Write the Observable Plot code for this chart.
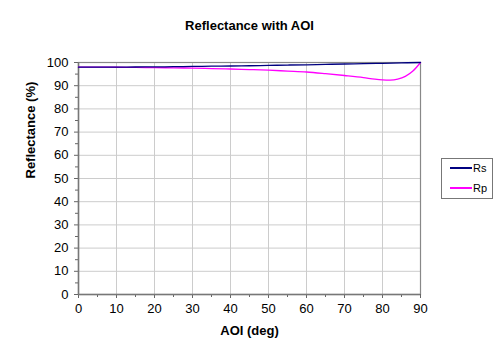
<!DOCTYPE html>
<html>
<head>
<meta charset="utf-8">
<script src="https://cdn.jsdelivr.net/npm/d3@7"></script>
<script src="https://cdn.jsdelivr.net/npm/@observablehq/plot@0.6"></script>
<style>
  body { margin: 0; background: #fff; }
  #wrap { position: relative; width: 500px; height: 362px; font-family: "Liberation Sans", Arial, sans-serif; }
  #legend { position: absolute; left: 441px; top: 158px; width: 52px; height: 41px; border: 1px solid #777; box-sizing: border-box; font-size: 11px; background: #fff; }
  .item { position: absolute; left: 8px; display: flex; align-items: center; }
  .item span.sw { display: inline-block; width: 22px; height: 2px; margin-right: 1px; }
</style>
</head>
<body>
<div id="wrap"></div>
<script>
const title = "Reflectance with AOI";
const xLabel = "AOI (deg)";
const yLabel = "Reflectance (%)";
const seriesNames = ["Rs", "Rp"];
const seriesColors = ["#000080", "#ff00ff"];
const xTicks = [0, 10, 20, 30, 40, 50, 60, 70, 80, 90];
const yTicks = [0, 10, 20, 30, 40, 50, 60, 70, 80, 90, 100];
const xMinor = [5, 15, 25, 35, 45, 55, 65, 75, 85];
const yMinor = [5, 15, 25, 35, 45, 55, 65, 75, 85, 95];

const aoiRs = [0, 5, 10, 15, 20, 25, 30, 35, 40, 45, 50, 55, 60, 65, 70, 75, 80, 85, 90];
const rs    = [98.0, 98.0, 98.0, 98.05, 98.1, 98.2, 98.3, 98.4, 98.5, 98.6, 98.75, 98.9, 99.0, 99.2, 99.35, 99.5, 99.65, 99.85, 100];

const aoiRp = [0, 5, 10, 15, 20, 25, 30, 35, 40, 45, 50, 55, 60, 65, 70, 75, 78, 80, 82, 84, 86, 88, 90];
const rp    = [98.0, 98.0, 97.95, 97.9, 97.8, 97.7, 97.55, 97.4, 97.2, 96.95, 96.7, 96.3, 95.9, 95.2, 94.4, 93.5, 92.8, 92.5, 92.4, 92.8, 94.0, 96.3, 100];

const dataRs = aoiRs.map((a, i) => ({aoi: a, r: rs[i]}));
const dataRp = aoiRp.map((a, i) => ({aoi: a, r: rp[i]}));

const font = "Liberation Sans, Arial, sans-serif";

const chart = Plot.plot({
  width: 500,
  height: 362,
  marginLeft: 78,
  marginRight: 80,
  marginTop: 62,
  marginBottom: 68,
  style: {fontFamily: font, fontSize: "13px", color: "#000", background: "#fff"},
  x: {domain: [0, 90], label: null},
  y: {domain: [0, 100], label: null},
  marks: [
    Plot.gridX(xTicks, {stroke: "#cccccc", strokeOpacity: 1}),
    Plot.gridY(yTicks, {stroke: "#cccccc", strokeOpacity: 1}),
    Plot.frame({stroke: "#888888", strokeWidth: 1.2}),
    Plot.axisX({ticks: xTicks, tickSize: 4, tickPadding: 5, stroke: "#666", fontSize: 13}),
    Plot.axisX({ticks: xMinor, tickSize: 3, text: null, stroke: "#666"}),
    Plot.axisY({ticks: yTicks, tickSize: 4, tickPadding: 6, stroke: "#666", fontSize: 13}),
    Plot.axisY({ticks: yMinor, tickSize: 3, text: null, stroke: "#666"}),
    Plot.ruleX([0], {stroke: "#777", strokeWidth: 1.5}),
    Plot.ruleY([0], {stroke: "#777", strokeWidth: 1.5}),
    Plot.line(dataRp, {x: "aoi", y: "r", stroke: seriesColors[1], strokeWidth: 1.3, curve: "monotone-x"}),
    Plot.line(dataRs, {x: "aoi", y: "r", stroke: seriesColors[0], strokeWidth: 1.3, curve: "monotone-x"}),
    Plot.text([title], {frameAnchor: "top", dy: -42, fontWeight: "bold", fontSize: 13, fill: "#000"}),
    Plot.text([xLabel], {frameAnchor: "bottom", dy: 40, fontWeight: "bold", fontSize: 13, fill: "#000"}),
    Plot.text([yLabel], {frameAnchor: "left", dx: -48, rotate: -90, fontWeight: "bold", fontSize: 13, fill: "#000"})
  ]
});

const wrap = document.getElementById("wrap");
wrap.appendChild(chart);

const legend = document.createElement("div");
legend.id = "legend";
seriesNames.forEach((name, i) => {
  const item = document.createElement("div");
  item.className = "item";
  item.style.top = (i === 0 ? 3 : 23) + "px";
  const sw = document.createElement("span");
  sw.className = "sw";
  sw.style.background = seriesColors[i];
  const lab = document.createElement("span");
  lab.textContent = name;
  item.appendChild(sw);
  item.appendChild(lab);
  legend.appendChild(item);
});
wrap.appendChild(legend);
</script>
</body>
</html>
